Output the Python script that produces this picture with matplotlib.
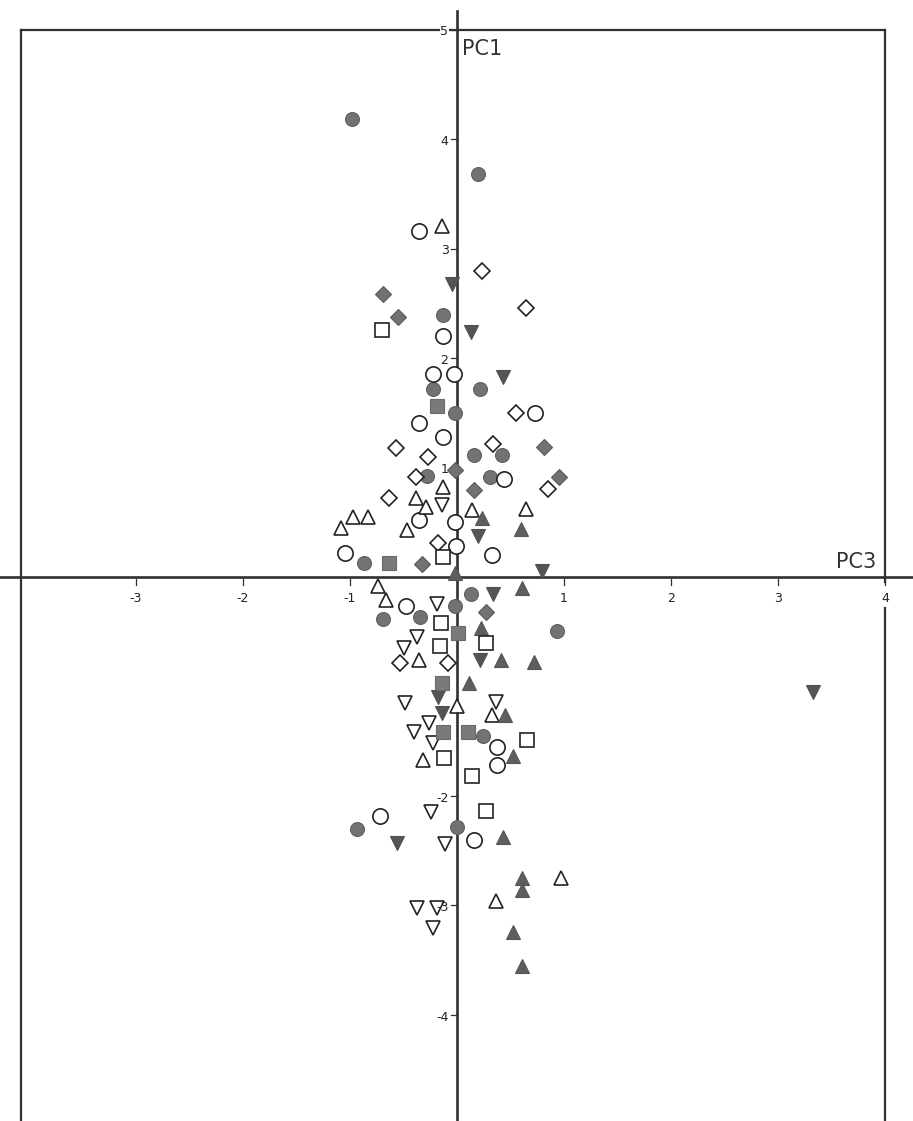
import matplotlib
matplotlib.use("Agg")
import matplotlib.pyplot as plt

# ── Scores (PC3, PC1) ────────────────────────────────────────────────────────

filled_circle_x = [-0.98, 0.20, -0.13, -0.22, 0.21, -0.02, 0.16, 0.42, -0.28, 0.31,
                   -0.87, 0.13, -0.35, -0.02, -0.69, 0.93, 0.24, -0.93, 0.00]
filled_circle_y = [4.18, 3.68, 2.39, 1.72, 1.72, 1.50, 1.11, 1.11, 0.92, 0.91,
                   0.13, -0.16, -0.37, -0.27, -0.38, -0.49, -1.45, -2.30, -2.28]

open_circle_x = [-0.36, -0.13, -0.22, -0.03, 0.73, -0.36, -0.13, 0.44, -0.36, -0.02,
                 -0.01, -1.05, 0.33, -0.48, 0.37, 0.37, -0.72, 0.16]
open_circle_y = [3.16, 2.20, 1.85, 1.85, 1.50, 1.41, 1.28, 0.89, 0.52, 0.50,
                 0.28, 0.22, 0.20, -0.27, -1.55, -1.72, -2.18, -2.40]

open_tri_up_x = [-0.14, -0.13, -0.38, -0.29, 0.14, 0.64, -0.97, -0.83, -1.08, -0.47,
                 -0.74, -0.66, -0.36, 0.00, 0.33, -0.32, 0.97, 0.36]
open_tri_up_y = [3.21, 0.82, 0.72, 0.64, 0.61, 0.62, 0.55, 0.55, 0.45, 0.43,
                 -0.08, -0.21, -0.76, -1.18, -1.26, -1.67, -2.75, -2.96]

filled_tri_up_x = [0.23, 0.60, -0.02, 0.61, 0.22, 0.41, 0.72, 0.11, 0.45, 0.52,
                   0.43, 0.61, 0.61, 0.52, 0.61]
filled_tri_up_y = [0.54, 0.44, 0.04, -0.10, -0.47, -0.76, -0.78, -0.97, -1.26, -1.64,
                   -2.38, -2.75, -2.86, -3.24, -3.55]

open_tri_down_x = [-0.14, -0.19, -0.37, -0.50, -0.49, 0.36, -0.26, -0.40, -0.22, -0.24,
                   -0.11, -0.37, -0.19, -0.22]
open_tri_down_y = [0.66, -0.25, -0.55, -0.65, -1.15, -1.14, -1.33, -1.42, -1.52, -2.15,
                   -2.44, -3.02, -3.02, -3.21]

filled_tri_down_x = [-0.05, 0.13, 0.43, 0.20, 0.79, 0.34, 0.21, -0.14, -0.18, -0.56, 3.33]
filled_tri_down_y = [2.68, 2.24, 1.83, 0.37, 0.05, -0.16, -0.76, -1.24, -1.10, -2.43, -1.05]

open_diamond_x = [0.23, 0.64, 0.55, -0.57, -0.27, 0.34, -0.38, 0.85, -0.64, -0.18,
                  -0.53, -0.08]
open_diamond_y = [2.79, 2.46, 1.50, 1.18, 1.10, 1.21, 0.91, 0.80, 0.72, 0.31,
                  -0.79, -0.79]

filled_diamond_x = [-0.69, -0.55, 0.81, -0.02, 0.16, 0.95, -0.33, 0.27]
filled_diamond_y = [2.58, 2.37, 1.19, 0.98, 0.79, 0.91, 0.12, -0.32]

open_square_x = [-0.70, -0.13, -0.15, -0.16, 0.27, 0.65, -0.12, 0.14, 0.27]
open_square_y = [2.26, 0.18, -0.42, -0.63, -0.60, -1.49, -1.65, -1.82, -2.14]

filled_square_x = [-0.19, -0.64, 0.01, -0.14, -0.13, 0.10]
filled_square_y = [1.56, 0.13, -0.51, -0.97, -1.42, -1.42]

x_ticks = [-3, -2, -1, 1, 2, 3, 4]
y_ticks = [5, 4, 3, 2, 1, -2, -3, -4]

# ── Figure ───────────────────────────────────────────────────────────────────

fig = plt.figure(figsize=(9.13, 11.21), dpi=100)
ax = fig.add_axes([0, 0, 1, 1])
ax.set_xlim(-4.27, 4.26)
ax.set_ylim(-4.97, 5.27)
ax.axis("off")

LINE = "#303030"
GREY = "#727272"

# axes through the origin
ax.axhline(0, color=LINE, linewidth=1.9, zorder=1)
ax.axvline(0, ymax=0.99, color=LINE, linewidth=1.9, zorder=1)

# frame
ax.plot([-4.07, 4.0], [5, 5], color=LINE, linewidth=1.6, zorder=1)
ax.plot([-4.07, -4.07], [5, -5], color=LINE, linewidth=1.6, zorder=1)
ax.plot([4.0, 4.0], [5, -0.05], color=LINE, linewidth=1.6, zorder=1)
ax.plot([4.0, 4.0], [-0.28, -5], color=LINE, linewidth=1.6, zorder=1)

# tick marks and labels
for t in x_ticks:
    ax.plot([t, t], [-0.02, -0.07], color=LINE, linewidth=0.9, zorder=1)
    ax.text(t, -0.2, str(t), ha="center", va="center",
            fontsize=9, color="#222222", zorder=4)
for t in y_ticks:
    ax.plot([-0.06, 0], [t, t], color=LINE, linewidth=0.9, zorder=1)
    bb = dict(facecolor="white", edgecolor="none", pad=0.5) if t == 5 else None
    ax.text(-0.08, t - 0.02, str(t), ha="right", va="center",
            fontsize=9, color="#222222", zorder=4, bbox=bb)

ax.text(0.05, 4.82, "PC1", ha="left", va="center", fontsize=15,
        color="#333333", zorder=4)
ax.text(3.92, 0.14, "PC3", ha="right", va="center", fontsize=15,
        color="#333333", zorder=4)

# points
ms = 10
ax.plot(filled_circle_x, filled_circle_y, "o", ms=ms, mfc=GREY, mec="#606060",
        mew=0.8, zorder=3)
ax.plot(open_circle_x, open_circle_y, "o", ms=ms + 1, mfc="white", mec="#222222",
        mew=1.2, zorder=3)
ax.plot(open_tri_up_x, open_tri_up_y, "^", ms=ms, mfc="white", mec="#222222",
        mew=1.2, zorder=3)
ax.plot(filled_tri_up_x, filled_tri_up_y, "^", ms=ms, mfc="#5e5e5e", mec="#555555",
        mew=0.8, zorder=3)
ax.plot(open_tri_down_x, open_tri_down_y, "v", ms=ms, mfc="white", mec="#222222",
        mew=1.2, zorder=3)
ax.plot(filled_tri_down_x, filled_tri_down_y, "v", ms=ms, mfc="#555555",
        mec="#505050", mew=0.8, zorder=3)
ax.plot(open_diamond_x, open_diamond_y, "D", ms=ms - 2, mfc="white", mec="#222222",
        mew=1.2, zorder=3)
ax.plot(filled_diamond_x, filled_diamond_y, "D", ms=ms - 2, mfc=GREY, mec="#5a5a5a",
        mew=0.8, zorder=3)
ax.plot(open_square_x, open_square_y, "s", ms=ms, mfc="white", mec="#222222",
        mew=1.2, zorder=3)
ax.plot(filled_square_x, filled_square_y, "s", ms=ms, mfc="#7a7a7a", mec="#6a6a6a",
        mew=0.8, zorder=3)

fig.savefig("out.png", dpi=100, facecolor="white")
plt.close(fig)
